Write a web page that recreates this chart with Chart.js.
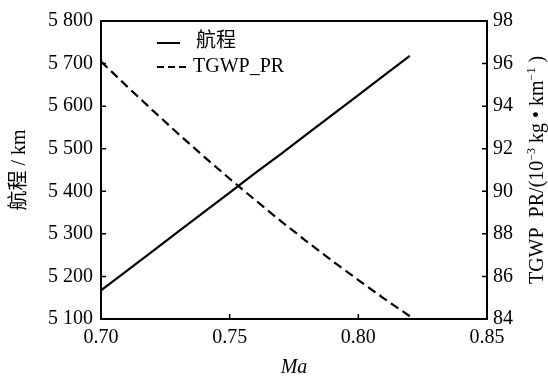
<!DOCTYPE html>
<html>
<head>
<meta charset="utf-8">
<script src="https://cdn.jsdelivr.net/npm/chart.js@4"></script>
<style>
  html, body { margin: 0; padding: 0; background: #fff; }
  #wrap { width: 548px; height: 376px; }
</style>
</head>
<body>
<div id="wrap"><canvas id="chart"></canvas></div>
<script>
// values
const machNumbers = [0.70, 0.71, 0.72, 0.73, 0.74, 0.75, 0.76, 0.77, 0.78, 0.79, 0.80, 0.81, 0.82];
const rangeKm = [5167, 5213, 5259, 5305, 5351, 5397, 5443, 5488, 5534, 5580, 5626, 5672, 5718];
const tgwpPr = [96.1, 94.94, 93.81, 92.7, 91.63, 90.59, 89.58, 88.59, 87.64, 86.72, 85.83, 84.96, 84.13];
const seriesNames = ['航程', 'TGWP_PR'];

const FONT = '"Liberation Serif", "Noto Sans CJK SC", serif';

function toPoints(xs, ys) {
  return xs.map((x, i) => ({ x: x, y: ys[i] }));
}

function spaced(v) {
  // 5800 -> "5 800"
  const s = String(Math.round(v));
  return s.length > 3 ? s.slice(0, s.length - 3) + ' ' + s.slice(-3) : s;
}

// right axis title, read bottom to top, with superscripts
function drawRightTitle(ctx, cx, cy) {
  const big = '20px ' + FONT, small = '12px ' + FONT;
  const parts = [
    ['TGWP  PR/(10', big, 0], ['−3', small, -8], [' kg • km', big, 0], ['−1', small, -8], [' )', big, 0]
  ];
  let total = 0;
  parts.forEach(p => { ctx.font = p[1]; total += ctx.measureText(p[0]).width; });
  ctx.save();
  ctx.translate(cx, cy);
  ctx.rotate(-Math.PI / 2);
  ctx.fillStyle = '#000';
  ctx.textBaseline = 'alphabetic';
  ctx.textAlign = 'left';
  let x = -total / 2;
  parts.forEach(p => {
    ctx.font = p[1];
    ctx.fillText(p[0], x, p[2]);
    x += ctx.measureText(p[0]).width;
  });
  ctx.restore();
}

// frame, inward ticks, legend inside the plot
const framePlugin = {
  id: 'frame',
  afterDatasetsDraw(chart) {
    const { ctx, chartArea: a, scales } = chart;
    ctx.save();
    ctx.strokeStyle = '#000';
    ctx.lineWidth = 2;
    ctx.strokeRect(a.left, a.top, a.right - a.left, a.bottom - a.top);

    ctx.lineWidth = 1.5;
    const len = 5;
    ctx.beginPath();
    scales.x.ticks.forEach(t => {
      const px = scales.x.getPixelForValue(t.value);
      if (px <= a.left + 1 || px >= a.right - 1) return;
      ctx.moveTo(px, a.bottom);
      ctx.lineTo(px, a.bottom - len);
    });
    scales.y.ticks.forEach(t => {
      const py = scales.y.getPixelForValue(t.value);
      if (py <= a.top + 1 || py >= a.bottom - 1) return;
      ctx.moveTo(a.left, py);
      ctx.lineTo(a.left + len, py);
    });
    scales.y2.ticks.forEach(t => {
      const py = scales.y2.getPixelForValue(t.value);
      if (py <= a.top + 1 || py >= a.bottom - 1) return;
      ctx.moveTo(a.right, py);
      ctx.lineTo(a.right - len, py);
    });
    ctx.stroke();

    // legend
    const lx = 157, rows = [43, 67];
    chart.data.datasets.forEach((ds, i) => {
      ctx.beginPath();
      ctx.lineWidth = 2;
      ctx.setLineDash(i === 0 ? [] : [7, 4]);
      ctx.moveTo(lx, rows[i]);
      ctx.lineTo(lx + (i === 0 ? 23 : 33), rows[i]);
      ctx.stroke();
      ctx.setLineDash([]);
      ctx.fillStyle = '#000';
      ctx.font = '20px ' + FONT;
      ctx.textBaseline = 'middle';
      ctx.textAlign = 'left';
      ctx.fillText(ds.label, i === 0 ? 196 : 193, rows[i] - (i === 0 ? 1 : 0));
    });
    ctx.restore();

    drawRightTitle(ctx, 543, 170);
  }
};

new Chart(document.getElementById('chart'), {
  type: 'scatter',
  data: {
    datasets: [{
      label: seriesNames[0],
      data: toPoints(machNumbers, rangeKm),
      yAxisID: 'y',
      showLine: true,
      borderColor: '#000',
      borderWidth: 2.2,
      pointRadius: 0
    }, {
      label: seriesNames[1],
      data: toPoints(machNumbers, tgwpPr),
      yAxisID: 'y2',
      showLine: true,
      borderColor: '#000',
      borderWidth: 2.2,
      borderDash: [9, 5],
      pointRadius: 0
    }]
  },
  options: {
    responsive: true,
    maintainAspectRatio: false,
    animation: false,
    layout: { padding: { top: 21, left: 0, right: 0, bottom: 0 } },
    plugins: {
      legend: { display: false },
      tooltip: { enabled: false }
    },
    scales: {
      x: {
        type: 'linear',
        min: 0.70,
        max: 0.85,
        grid: { display: false, drawTicks: false },
        border: { display: false },
        afterFit: s => { s.height = 57; },
        ticks: {
          stepSize: 0.05,
          padding: 7,
          color: '#000',
          font: { family: FONT, size: 20 },
          callback: v => v.toFixed(2)
        },
        title: {
          display: true,
          text: 'Ma',
          color: '#000',
          font: { family: FONT, size: 20, style: 'italic', lineHeight: 1 },
          padding: { top: 0, bottom: -2 }
        }
      },
      y: {
        position: 'left',
        min: 5100,
        max: 5800,
        grid: { display: false, drawTicks: false },
        border: { display: false },
        afterFit: s => { s.width = 101; },
        ticks: {
          stepSize: 100,
          padding: 8,
          color: '#000',
          font: { family: FONT, size: 20 },
          callback: v => spaced(v)
        },
        title: {
          display: true,
          text: '航程 / km',
          color: '#000',
          font: { family: FONT, size: 20 },
          padding: { top: 8, bottom: 0 }
        }
      },
      y2: {
        position: 'right',
        min: 84,
        max: 98,
        grid: { display: false, drawTicks: false },
        border: { display: false },
        afterFit: s => { s.width = 61; },
        ticks: {
          stepSize: 2,
          padding: 6,
          color: '#000',
          font: { family: FONT, size: 20 }
        },
        title: { display: false }
      }
    }
  },
  plugins: [framePlugin]
});
</script>
</body>
</html>
